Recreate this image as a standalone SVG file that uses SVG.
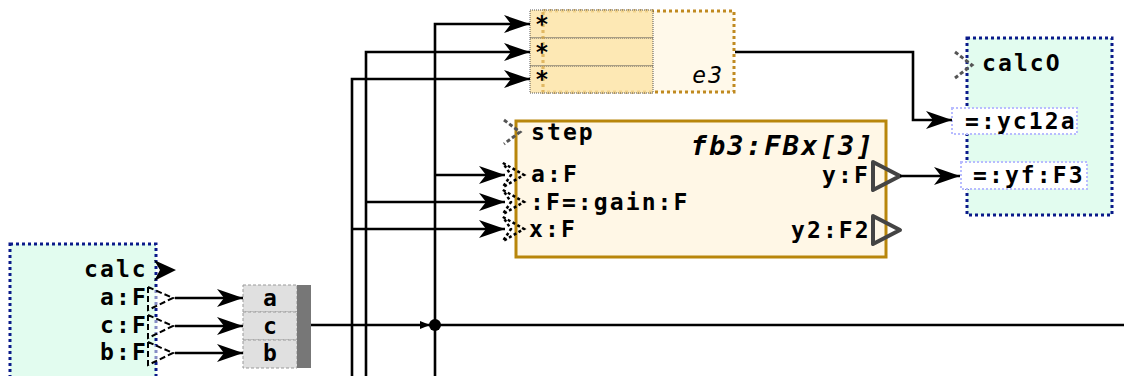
<svg xmlns="http://www.w3.org/2000/svg" width="1124" height="376" viewBox="0 0 1124 376">
<style>
.t{font-family:"DejaVu Sans Mono",monospace;font-weight:bold;font-size:23px;letter-spacing:2.1px;fill:#000}
.c{fill:none;stroke:#000;stroke-width:2.6}
.cell{fill:#e0e0e0;stroke:#999;stroke-width:1;stroke-dasharray:3,2}
.erow{fill:#fde4a6;fill-opacity:0.8;stroke:#555;stroke-width:1;stroke-dasharray:1,1}
.inp{fill:none;stroke:#000;stroke-width:2.5;stroke-dasharray:3,2.5}
.gport{fill:none;stroke:#555;stroke-width:3;stroke-dasharray:4,2.5}
.dport{fill:#fff;fill-opacity:0.5;stroke:#000;stroke-width:2;stroke-dasharray:6,3}
.oport{fill:none;stroke:#444;stroke-width:4;stroke-linejoin:round}
.lbl{fill:#fff;stroke:#b8bcff;stroke-width:2;stroke-dasharray:2,2}
</style>
<defs>
<marker id="ah" markerUnits="userSpaceOnUse" markerWidth="26" markerHeight="18" refX="26" refY="9" orient="auto">
<path d="M0,0 L26,9 L0,18 L7,9 Z" fill="#000"/>
</marker>
<marker id="sah" markerUnits="userSpaceOnUse" markerWidth="10" markerHeight="8" refX="10" refY="4" orient="auto">
<path d="M0,0 L10,4 L0,8 Z" fill="#000"/>
</marker>
</defs>

<g id="calc">
<rect x="10" y="244" width="146" height="140" fill="#e2fcef" stroke="#0a1a8a" stroke-width="3" stroke-dasharray="3,3"/>
<text class="t" x="84" y="277">calc</text>
<path d="M154,260 L176,270 L154,281 L160,270 Z" fill="#000"/>
<text class="t" x="100" y="305">a:F</text>
<text class="t" x="100" y="333">c:F</text>
<text class="t" x="100" y="360">b:F</text>
<path class="dport" d="M148,287 L173,298 L148,310 Z"/>
<path class="dport" d="M148,315 L173,326 L148,338 Z"/>
<path class="dport" d="M148,342 L173,353 L148,365 Z"/>
</g>

<g id="tuple">
<rect class="cell" x="243" y="285" width="54" height="27"/>
<rect class="cell" x="243" y="312" width="54" height="28"/>
<rect class="cell" x="243" y="340" width="54" height="28"/>
<rect x="297" y="285" width="14" height="83" fill="#777"/>
<text class="t" x="270" y="306" text-anchor="middle" style="letter-spacing:0">a</text>
<text class="t" x="270" y="334" text-anchor="middle" style="letter-spacing:0">c</text>
<text class="t" x="270" y="361" text-anchor="middle" style="letter-spacing:0">b</text>
</g>

<g id="e3">
<rect x="543" y="11" width="191" height="81" fill="#fff9ea" stroke="#c08a20" stroke-width="3" stroke-dasharray="3,3"/>
<rect class="erow" x="530" y="10" width="123" height="28"/>
<rect class="erow" x="530" y="38" width="123" height="28"/>
<rect class="erow" x="530" y="66" width="123" height="27"/>
<line x1="543" y1="12" x2="543" y2="92" stroke="#d8a848" stroke-width="3" stroke-dasharray="3,3" opacity="0.6"/>
<text class="t" x="535" y="32">*</text>
<text class="t" x="535" y="60">*</text>
<text class="t" x="535" y="87">*</text>
<text x="724" y="83" text-anchor="end" style="font-family:'DejaVu Sans Mono',monospace;font-style:italic;font-size:23px;letter-spacing:2px">e3</text>
</g>

<g id="fb3">
<rect x="516" y="121" width="370" height="136" fill="#fff7e6" stroke="#b8860b" stroke-width="3"/>
<text x="875" y="155" text-anchor="end" style="font-family:'DejaVu Sans Mono',monospace;font-weight:bold;font-style:italic;font-size:27px;letter-spacing:2.2px">fb3:FBx[3]</text>
<path class="gport" d="M504,120 L520,132 L504,144"/>
<text class="t" x="531" y="140">step</text>
<path class="inp" d="M503,163 L524,175 L503,187 L511,175 Z"/>
<path class="inp" d="M503,190 L524,202 L503,214 L511,202 Z"/>
<path class="inp" d="M503,217 L524,229 L503,241 L511,229 Z"/>
<text class="t" x="531" y="182">a:F</text>
<text class="t" x="530" y="210">:F=:gain:F</text>
<text class="t" x="529" y="237">x:F</text>
<text class="t" x="822" y="183">y:F</text>
<text class="t" x="791" y="238">y2:F2</text>
<path class="oport" d="M873,162 L900,176 L873,190 Z"/>
<path class="oport" d="M873,216 L900,230 L873,244 Z"/>
</g>

<g id="calcO">
<rect x="967" y="38" width="145" height="177" fill="#e2fcef" stroke="#0a1a8a" stroke-width="3" stroke-dasharray="3,3"/>
<path class="gport" d="M955,52 L972,65 L955,78"/>
<text class="t" x="982" y="71">calcO</text>
<rect class="lbl" x="952" y="108" width="125" height="26"/>
<text class="t" x="965" y="129">=:yc12a</text>
<rect class="lbl" x="961" y="162" width="126" height="27"/>
<text class="t" x="973" y="183">=:yf:F3</text>
</g>

<g id="connectors">
<path class="c" d="M175,298 H243" marker-end="url(#ah)"/>
<path class="c" d="M175,326 H243" marker-end="url(#ah)"/>
<path class="c" d="M175,353 H243" marker-end="url(#ah)"/>
<path class="c" d="M311,325 H430" marker-end="url(#sah)"/>
<path class="c" d="M435,325 H1124"/>
<circle cx="435" cy="325" r="6" fill="#000"/>
<path class="c" d="M435,376 V24 H530" marker-end="url(#ah)"/>
<path class="c" d="M366,376 V52 H530" marker-end="url(#ah)"/>
<path class="c" d="M352,376 V79 H530" marker-end="url(#ah)"/>
<path class="c" d="M435,175 H505" marker-end="url(#ah)"/>
<path class="c" d="M366,202 H505" marker-end="url(#ah)"/>
<path class="c" d="M352,229 H505" marker-end="url(#ah)"/>
<path class="c" d="M735,52 H913 V120 H952" marker-end="url(#ah)"/>
<path class="c" d="M900,176 H960" marker-end="url(#ah)"/>
</g>
</svg>
